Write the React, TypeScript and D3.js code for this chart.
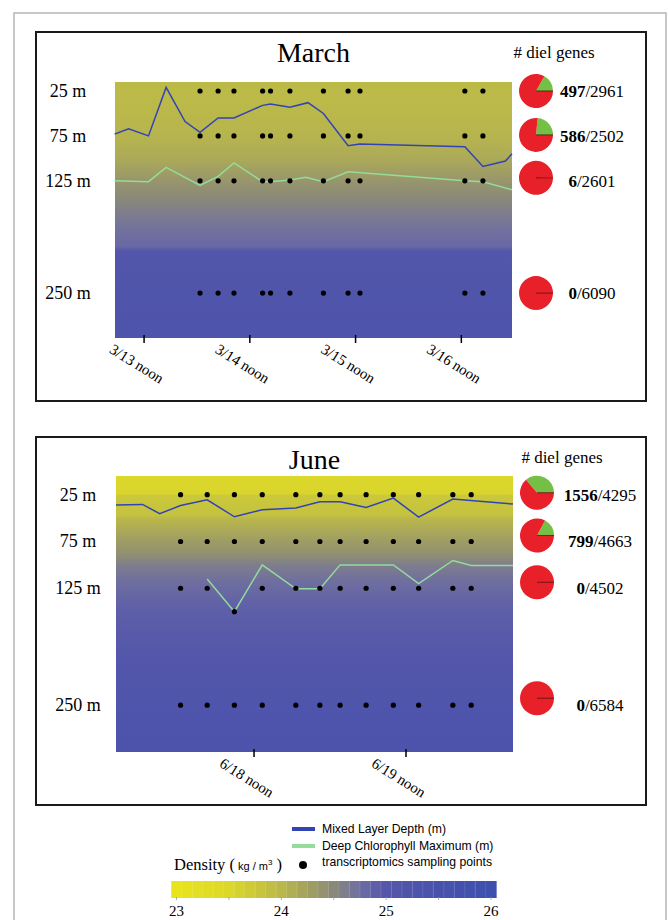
import React from "react";
import * as d3 from "d3";

// sampling depths (m)
const depths = [25, 75, 125, 250];
const depthLabels = ["25 m", "75 m", "125 m", "250 m"];

// ---- March (hours since 3/13 00:00) ----
const marchTicks = [12, 36, 60, 84];
const marchTickLabels = ["3/13 noon", "3/14 noon", "3/15 noon", "3/16 noon"];
const marchSampleTimes = [24.7, 28.8, 32.4, 38.9, 40.7, 45.1, 52.7, 58.3, 61, 84.8, 88.9];
const marchRowDepths = [
  [25, 25, 25, 25, 25, 25, 25, 25, 25, 25, 25],
  [75, 75, 75, 75, 75, 75, 75, 75, 75, 75, 75],
  [125, 125, 125, 125, 125, 125, 125, 125, 125, 125, 125],
  [250, 250, 250, 250, 250, 250, 250, 250, 250, 250, 250],
];
const marchMldTime = [5.3, 8.5, 13, 17, 21.3, 24.7, 28.8, 32.4, 38.9, 40.7, 45.1, 49.2, 52.7, 58.3, 61, 84.8, 88.9, 94, 95.5];
const marchMldDepth = [73, 67, 75, 21, 59, 71, 55, 55, 41, 39.5, 43, 38, 50, 86, 84, 87, 109, 103, 95];
const marchDcmTime = [5.3, 13, 17, 24.7, 28.8, 32.4, 38.9, 40.7, 45.1, 48.7, 52.7, 58.3, 84.8, 88.9, 95.5];
const marchDcmDepth = [125, 126, 110, 130, 120, 105, 126, 126, 124, 121, 126, 115, 125, 126, 135];
const marchDiel = [497, 586, 6, 0];
const marchTotal = [2961, 2502, 2601, 6090];
const marchProfileDepth = [15, 50, 80, 100, 115, 130, 145, 160, 180, 198, 203, 250, 300];
const marchProfileDensity = [23.95, 24.0, 24.05, 24.15, 24.28, 24.4, 24.5, 24.6, 24.72, 24.8, 25.1, 25.2, 25.3];

// ---- June (hours since 6/17 00:00) ----
const juneTicks = [36, 60];
const juneTickLabels = ["6/18 noon", "6/19 noon"];
const juneSampleTimes = [24.4, 28.6, 32.9, 37.3, 42.6, 46.4, 49.6, 53.7, 58.0, 62.0, 67.4, 70.3];
const juneRowDepths = [
  [25, 25, 25, 25, 25, 25, 25, 25, 25, 25, 25, 25],
  [75, 75, 75, 75, 75, 75, 75, 75, 75, 75, 75, 75],
  [125, 125, 150, 125, 125, 125, 125, 125, 125, 125, 125, 125],
  [250, 250, 250, 250, 250, 250, 250, 250, 250, 250, 250, 250],
];
const juneMldTime = [14.2, 18.4, 21.1, 24.4, 28.6, 32.9, 37.3, 42.6, 46.4, 49.6, 53.7, 58.0, 62.0, 67.4, 76.9];
const juneMldDepth = [36, 35.4, 45.3, 36.5, 30.4, 48.6, 41, 39.3, 32.5, 32.5, 38.6, 28.6, 48.9, 29.6, 35];
const juneDcmTime = [28.6, 32.9, 37.3, 42.6, 46.4, 49.6, 58.0, 62.0, 67.4, 70.3, 76.9];
const juneDcmDepth = [115, 150, 100, 125.6, 125.6, 100, 100, 120, 95.3, 100.6, 100.6];
const juneDiel = [1556, 799, 0, 0];
const juneTotal = [4295, 4663, 4502, 6584];
const juneProfileDepth = [5, 24, 26, 47, 50, 75, 90, 100, 118, 147, 200, 250, 300];
const juneProfileDensity = [23.5, 23.55, 23.75, 23.85, 24.0, 24.3, 24.45, 24.6, 24.75, 24.9, 25.1, 25.25, 25.35];

// density colour bar
const densityStops = [23, 23.5, 24, 24.33, 24.5, 24.67, 24.83, 25, 25.5, 26];
const densityColors = ["#e8e41c", "#dcd82a", "#bab84a", "#9b9968", "#8a8979", "#77779a", "#6464a6", "#5657aa", "#4852ab", "#3d50ae"];
const densityTicks = [23, 23.5, 24, 24.5, 25, 25.5, 26];
const densityTickLabels = ["23", "24", "25", "26"];

const color = d3.scaleLinear<string>().domain(densityStops).range(densityColors).interpolate(d3.interpolateRgb);

const MLD_COLOR = "#3243b5";
const DCM_COLOR = "#93dc9c";
const SERIF = "'Liberation Serif', 'Times New Roman', serif";
const SANS = "'Liberation Sans', Arial, sans-serif";

type PanelProps = {
  id: string;
  title: string;
  frame: { x: number; y: number; w: number; h: number };
  plot: { left: number; right: number; top: number; bottom: number };
  timeDomain: [number, number];
  depthDomain: [number, number];
  ticks: number[];
  tickLabels: string[];
  sampleTimes: number[];
  rowDepths: number[][];
  mldTime: number[];
  mldDepth: number[];
  dcmTime: number[];
  dcmDepth: number[];
  diel: number[];
  total: number[];
  profileDepth: number[];
  profileDensity: number[];
  titleY: number;
  headerX: number;
  headerY: number;
  depthLabelX: number;
  pieX: number;
  pieDy: number[];
  pieTextX: number;
};

const Panel = (p: PanelProps) => {
  const x = d3.scaleLinear().domain(p.timeDomain).range([p.plot.left, p.plot.right]);
  const y = d3.scaleLinear().domain(p.depthDomain).range([p.plot.top, p.plot.bottom]);
  const line = d3
    .line<[number, number]>()
    .x((d) => x(d[0]))
    .y((d) => y(d[1]));
  const mld = line(p.mldTime.map((t, i) => [t, p.mldDepth[i]]));
  const dcm = line(p.dcmTime.map((t, i) => [t, p.dcmDepth[i]]));
  // slices start at 3 o'clock and run counter-clockwise, diel share first
  const pie = d3
    .pie<number>()
    .sort(null)
    .startAngle(Math.PI / 2)
    .endAngle(Math.PI / 2 - 2 * Math.PI);
  const r = 17;
  const arc = d3.arc<d3.PieArcDatum<number>>().innerRadius(0).outerRadius(r);
  const h = p.plot.bottom - p.plot.top;

  return (
    <g>
      <defs>
        <linearGradient id={p.id + "-grad"} gradientUnits="userSpaceOnUse" x1={0} x2={0} y1={p.plot.top} y2={p.plot.bottom}>
          {p.profileDepth.map((d, i) => (
            <stop key={i} offset={(y(d) - p.plot.top) / h} stopColor={color(p.profileDensity[i])} />
          ))}
        </linearGradient>
      </defs>
      <rect x={p.frame.x} y={p.frame.y} width={p.frame.w} height={p.frame.h} fill="#fff" stroke="#1a1a1a" strokeWidth={2} />
      <rect
        x={p.plot.left}
        y={p.plot.top}
        width={p.plot.right - p.plot.left}
        height={h}
        fill={`url(#${p.id}-grad)`}
      />
      <text x={(p.plot.left + p.plot.right) / 2} y={p.titleY} textAnchor="middle" fontFamily={SERIF} fontSize={28}>
        {p.title}
      </text>
      <text x={p.headerX} y={p.headerY} textAnchor="middle" fontFamily={SERIF} fontSize={17}>
        # diel genes
      </text>
      {depths.map((d, i) => (
        <text key={d} x={p.depthLabelX} y={y(d) + 6} textAnchor="middle" fontFamily={SERIF} fontSize={18}>
          {depthLabels[i]}
        </text>
      ))}
      <path d={dcm ?? ""} fill="none" stroke={DCM_COLOR} strokeWidth={1.5} />
      <path d={mld ?? ""} fill="none" stroke={MLD_COLOR} strokeWidth={1.5} />
      {p.rowDepths.map((row, ri) =>
        row.map((d, i) => <circle key={ri + "-" + i} cx={x(p.sampleTimes[i])} cy={y(d)} r={2.6} fill="#000" />)
      )}
      {p.ticks.map((t, i) => (
        <g key={t}>
          <line x1={x(t)} x2={x(t)} y1={p.plot.bottom - 3} y2={p.plot.bottom + 5} stroke="#000" strokeWidth={1.5} />
          <text
            transform={`translate(${x(t) - 10},${p.plot.bottom + 30}) rotate(32)`}
            textAnchor="middle"
            fontFamily={SERIF}
            fontSize={15}
          >
            {p.tickLabels[i]}
          </text>
        </g>
      ))}
      {depths.map((d, i) => {
        const cy = y(d) + p.pieDy[i];
        const arcs = pie([p.diel[i], p.total[i] - p.diel[i]]);
        return (
          <g key={"pie" + d}>
            <g transform={`translate(${p.pieX},${cy})`}>
              {arcs.map((a, j) => (
                <path key={j} d={arc(a) ?? ""} fill={j === 0 ? "#74c044" : "#e8202a"} />
              ))}
              <line x1={0} x2={r} y1={0} y2={0} stroke="#5a1010" strokeWidth={0.8} />
            </g>
            <text x={p.pieTextX} y={y(d) + 6} textAnchor="middle" fontFamily={SERIF} fontSize={17}>
              <tspan fontWeight="bold">{p.diel[i]}</tspan>
              <tspan>/{p.total[i]}</tspan>
            </text>
          </g>
        );
      })}
    </g>
  );
};

const Legend = () => {
  const cb = d3.scaleLinear().domain([23, 26]).range([176.5, 491]);
  const segs = d3.range(31).map((i) => 22.95 + i * 0.1);
  const barTop = 881;
  const barBottom = 898;
  return (
    <g>
      <line x1={292} x2={315} y1={829} y2={829} stroke={MLD_COLOR} strokeWidth={4} />
      <text x={322} y={833} fontFamily={SANS} fontSize={12.2}>Mixed Layer Depth (m)</text>
      <line x1={292} x2={315} y1={846} y2={846} stroke={DCM_COLOR} strokeWidth={4} />
      <text x={322} y={850} fontFamily={SANS} fontSize={12.2}>Deep Chlorophyll Maximum (m)</text>
      <circle cx={303} cy={865} r={4} fill="#000" />
      <text x={322} y={866} fontFamily={SANS} fontSize={12.2}>transcriptomics sampling points</text>
      <text x={174} y={870} fontFamily={SERIF} fontSize={16.5}>
        Density <tspan>(</tspan>
        <tspan fontFamily={SANS} fontSize={11}> kg / m</tspan>
        <tspan fontFamily={SANS} fontSize={8} dy={-5}>3</tspan>
        <tspan dy={5}> )</tspan>
      </text>
      {segs.map((s) => (
        <rect
          key={s}
          x={cb(s)}
          y={barTop}
          width={cb(s + 0.1) - cb(s) + 0.4}
          height={barBottom - barTop}
          fill={color(Math.min(26, Math.max(23, s + 0.05)))}
        />
      ))}
      {segs.slice(1).map((s) => (
        <line key={"l" + s} x1={cb(s)} x2={cb(s)} y1={barTop} y2={barBottom} stroke="#fff" strokeOpacity={0.12} />
      ))}
      {densityTicks.map((t) => (
        <line key={"t" + t} x1={cb(t)} x2={cb(t)} y1={barBottom - 1} y2={barBottom + 2} stroke="#999" strokeWidth={0.8} />
      ))}
      {densityTickLabels.map((l) => (
        <text key={l} x={cb(+l)} y={916} textAnchor="middle" fontFamily={SERIF} fontSize={15}>
          {l}
        </text>
      ))}
    </g>
  );
};

export default function App() {
  return (
    <svg width={668} height={920} style={{ position: "absolute", left: 0, top: 0, background: "#fff" }}>
      <rect x={14} y={13} width={652} height={930} fill="none" stroke="#b5b5b5" strokeWidth={1.5} />
      <Panel
        id="march"
        title="March"
        frame={{ x: 36, y: 32, w: 610, h: 369 }}
        plot={{ left: 115, right: 512, top: 82, bottom: 338 }}
        timeDomain={[5.4, 95.5]}
        depthDomain={[15, 300]}
        ticks={marchTicks}
        tickLabels={marchTickLabels}
        sampleTimes={marchSampleTimes}
        rowDepths={marchRowDepths}
        mldTime={marchMldTime}
        mldDepth={marchMldDepth}
        dcmTime={marchDcmTime}
        dcmDepth={marchDcmDepth}
        diel={marchDiel}
        total={marchTotal}
        profileDepth={marchProfileDepth}
        profileDensity={marchProfileDensity}
        titleY={62}
        headerX={554}
        headerY={58}
        depthLabelX={68}
        pieX={536}
        pieDy={[0, -1, -3, 0]}
        pieTextX={592}
      />
      <Panel
        id="june"
        title="June"
        frame={{ x: 36, y: 437, w: 610, h: 368 }}
        plot={{ left: 116, right: 513, top: 476, bottom: 752 }}
        timeDomain={[14.2, 76.9]}
        depthDomain={[5, 300]}
        ticks={juneTicks}
        tickLabels={juneTickLabels}
        sampleTimes={juneSampleTimes}
        rowDepths={juneRowDepths}
        mldTime={juneMldTime}
        mldDepth={juneMldDepth}
        dcmTime={juneDcmTime}
        dcmDepth={juneDcmDepth}
        diel={juneDiel}
        total={juneTotal}
        profileDepth={juneProfileDepth}
        profileDensity={juneProfileDensity}
        titleY={469}
        headerX={562}
        headerY={463}
        depthLabelX={78}
        pieX={537}
        pieDy={[-2, -6, -6, -7]}
        pieTextX={600}
      />
      <Legend />
    </svg>
  );
}
